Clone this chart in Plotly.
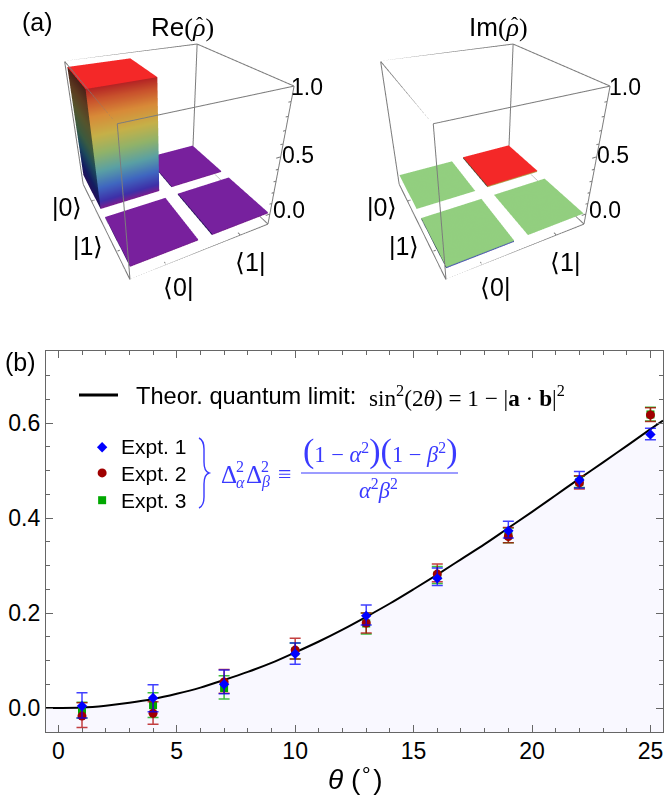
"""
Density matrix bars and uncertainty product against theta, drawn with Plotly.
"""

import plotly.graph_objects as go

WIDTH = 665
HEIGHT = 796

SANS = "Liberation Sans"
SERIF = "Liberation Serif"
BLUE_TEXT = "#3A3AFF"

# Panel (a): rows are |0>, |1>, columns are <0|, <1|
RE_RHO = [[0.96, 0.01], [0.01, 0.012]]
IM_RHO = [[0.0, 0.013], [-0.013, 0.0]]
ROW_LABELS = ["|0⟩", "|1⟩"]
COL_LABELS = ["⟨0|", "⟨1|"]
Z_TICK_LABELS = ["0.0", "0.5", "1.0"]

# Panel (b)
THETA_CURVE = [-0.52, 0, 1, 2, 3, 4, 5, 6, 7, 8, 9, 10, 11, 12, 13, 14, 15, 16, 17, 18,
               19, 20, 21, 22, 23, 24, 25, 25.53]
LIMIT_CURVE = [0.000, 0.000, 0.001, 0.005, 0.011, 0.019, 0.030, 0.043, 0.059, 0.076,
               0.095, 0.117, 0.140, 0.165, 0.192, 0.220, 0.250, 0.281, 0.313, 0.345,
               0.379, 0.413, 0.448, 0.483, 0.517, 0.552, 0.587, 0.605]

THETA = [1, 4, 7, 10, 13, 16, 19, 22, 25]

EXPT1 = [0.004, 0.021, 0.050, 0.114, 0.194, 0.273, 0.373, 0.480, 0.576]
EXPT1_HI = [0.032, 0.049, 0.080, 0.137, 0.217, 0.295, 0.393, 0.498, 0.589]
EXPT1_LO = [-0.021, -0.008, 0.030, 0.092, 0.175, 0.258, 0.358, 0.463, 0.565]

EXPT2 = [-0.017, -0.011, 0.055, 0.122, 0.179, 0.282, 0.361, 0.474, 0.617]
EXPT2_HI = [0.011, 0.013, 0.081, 0.147, 0.200, 0.303, 0.380, 0.489, 0.632]
EXPT2_LO = [-0.041, -0.034, 0.031, 0.103, 0.158, 0.266, 0.348, 0.461, 0.603]

EXPT3 = [-0.004, 0.006, 0.042, 0.119, 0.178, 0.279, 0.364, 0.476, 0.618]
EXPT3_HI = [0.012, 0.032, 0.068, 0.137, 0.200, 0.298, 0.379, 0.488, 0.633]
EXPT3_LO = [-0.021, -0.020, 0.019, 0.103, 0.156, 0.262, 0.348, 0.464, 0.604]

# Legend keys sit in data coordinates, next to the text
KEY_X = 1.85
KEY_Y = [0.549, 0.495, 0.4375]

# Colour ramps for the three visible bar faces (top is brightest, left is in shade)
TOP_RAMP = [[0, "#7B1E9B"], [0.18, "#3A48C8"], [0.35, "#4C96C8"], [0.5, "#93CF7E"],
            [0.65, "#DCC040"], [0.82, "#EE8A30"], [1, "#F42828"]]
FRONT_RAMP = [[0, "#7A1E8E"], [0.07, "#3E30A8"], [0.2, "#3F66C0"], [0.35, "#5AA0A4"],
              [0.5, "#90B26A"], [0.65, "#C6B048"], [0.8, "#D88A38"], [0.92, "#C8502C"],
              [1, "#B42424"]]
LEFT_RAMP = [[0, "#24105A"], [0.15, "#141C60"], [0.35, "#1C4A5C"], [0.5, "#3A5A40"],
             [0.7, "#56542C"], [0.87, "#5C3A20"], [1, "#4A2018"]]

# Box geometry and camera
CELL_LOW = [0.02, 1.1]
CELL_SIZE = 0.88
Z_FLOOR = -0.1
EYE = dict(x=-0.905, y=-1.79, z=1.157)
ASPECT = dict(x=1.0, y=1.012, z=0.985)
BOX_COLOR = "#7C7C7C"


def paper_x(px):
    return px / WIDTH


def paper_y(px):
    return 1 - px / HEIGHT


def label(text, x, y, size=23, font=SANS, color="black", xanchor="center"):
    return dict(
        text=text, x=paper_x(x), y=paper_y(y), xref="paper", yref="paper",
        showarrow=False, xanchor=xanchor, yanchor="middle",
        font=dict(family=font, size=size, color=color),
    )


def add_faces(fig, faces, ramp, vmin, vmax, scene):
    """Each face is four (x, y, z) corners; the ramp runs along z."""
    xs, ys, zs, i, j, k = [], [], [], [], [], []
    for face in faces:
        n = len(xs)
        for corner in face:
            xs.append(corner[0])
            ys.append(corner[1])
            zs.append(corner[2])
        i += [n, n]
        j += [n + 1, n + 2]
        k += [n + 2, n + 3]
    fig.add_trace(go.Mesh3d(
        x=xs, y=ys, z=zs, i=i, j=j, k=k, intensity=zs, colorscale=ramp, cmin=vmin, cmax=vmax,
        showscale=False, hoverinfo="skip", scene=scene,
        lighting=dict(ambient=1, diffuse=0, specular=0, roughness=1, fresnel=0),
    ))


def add_bars(fig, rho, scene):
    vmin = min(min(row) for row in rho + [[0]])
    vmax = max(max(row) for row in rho)
    tops, fronts, lefts = [], [], []
    for r, row in enumerate(rho):
        y0 = CELL_LOW[1 - r]
        y1 = y0 + CELL_SIZE
        for c, value in enumerate(row):
            x0 = CELL_LOW[c]
            x1 = x0 + CELL_SIZE
            top = max(value, 0)
            bot = min(value, 0)
            tops.append([(x0, y0, top), (x1, y0, top), (x1, y1, top), (x0, y1, top)])
            fronts.append([(x0, y0, bot), (x1, y0, bot), (x1, y0, top), (x0, y0, top)])
            lefts.append([(x0, y0, bot), (x0, y1, bot), (x0, y1, top), (x0, y0, top)])
    add_faces(fig, lefts, LEFT_RAMP, vmin, vmax, scene)
    add_faces(fig, fronts, FRONT_RAMP, vmin, vmax, scene)
    add_faces(fig, tops, TOP_RAMP, vmin, vmax, scene)


def add_box(fig, scene):
    xs, ys, zs = [], [], []

    def seg(a, b):
        xs.extend([a[0], b[0], None])
        ys.extend([a[1], b[1], None])
        zs.extend([a[2], b[2], None])

    for z in [Z_FLOOR, 1]:
        seg((0, 0, z), (2, 0, z))
        seg((2, 0, z), (2, 2, z))
        seg((2, 2, z), (0, 2, z))
        seg((0, 2, z), (0, 0, z))
    for x, y in [(0, 0), (2, 0), (2, 2), (0, 2)]:
        seg((x, y, Z_FLOOR), (x, y, 1))
    # small ticks: z along the right edge, cells along the two floor edges
    for n in range(11):
        size = 0.07 if n % 5 == 0 else 0.04
        seg((2, 0, n / 10), (2 - size, 0, n / 10))
    for low in CELL_LOW:
        mid = low + CELL_SIZE / 2
        seg((mid, 0, Z_FLOOR), (mid, 0.05, Z_FLOOR))
        seg((0, mid, Z_FLOOR), (0.05, mid, Z_FLOOR))
    fig.add_trace(go.Scatter3d(
        x=xs, y=ys, z=zs, mode="lines", line=dict(color=BOX_COLOR, width=2),
        hoverinfo="skip", showlegend=False, scene=scene,
    ))


def scene_layout(left):
    hidden = dict(
        visible=False, showgrid=False, zeroline=False, showticklabels=False,
        showbackground=False, showspikes=False, title="",
    )
    size = 289.4
    return dict(
        domain=dict(x=[paper_x(left), paper_x(left + size)], y=[paper_y(size), 1]),
        xaxis=dict(range=[0, 2], **hidden),
        yaxis=dict(range=[0, 2], **hidden),
        zaxis=dict(range=[Z_FLOOR, 1], **hidden),
        aspectmode="manual",
        aspectratio=ASPECT,
        camera=dict(eye=EYE, center=dict(x=0, y=0, z=0), up=dict(x=0, y=0, z=1)),
        bgcolor="rgba(0,0,0,0)",
    )


def add_expt(fig, y, hi, lo, color, bar_color, symbol, size, key_y):
    fig.add_trace(go.Scatter(
        x=THETA, y=y, mode="markers",
        marker=dict(color=color, symbol=symbol, size=size),
        error_y=dict(
            type="data", symmetric=False,
            array=[round(h - v, 3) for h, v in zip(hi, y)],
            arrayminus=[round(v - l, 3) for v, l in zip(y, lo)],
            color=bar_color, thickness=1.5, width=5.5,
        ),
        showlegend=False, hoverinfo="skip",
    ))
    fig.add_trace(go.Scatter(
        x=[KEY_X], y=[key_y], mode="markers",
        marker=dict(color=color, symbol=symbol, size=size),
        showlegend=False, hoverinfo="skip",
    ))


fig = go.Figure()

add_bars(fig, RE_RHO, "scene")
add_box(fig, "scene")
add_bars(fig, IM_RHO, "scene2")
add_box(fig, "scene2")

# shaded region under the limit, down to the bottom axis
fig.add_trace(go.Scatter(
    x=[THETA_CURVE[0], THETA_CURVE[-1]], y=[-0.0505, -0.0505], mode="lines",
    line=dict(width=0), showlegend=False, hoverinfo="skip",
))
fig.add_trace(go.Scatter(
    x=THETA_CURVE, y=LIMIT_CURVE, mode="lines", fill="tonexty", fillcolor="#F9F8FF",
    line=dict(color="black", width=2, shape="spline"),
    showlegend=False, hoverinfo="skip",
))

add_expt(fig, EXPT3, EXPT3_HI, EXPT3_LO, "#00A800", "rgba(0,168,0,0.75)", "square", 8, KEY_Y[2])
add_expt(fig, EXPT2, EXPT2_HI, EXPT2_LO, "#A00000", "rgba(176,0,0,0.75)", "circle", 9, KEY_Y[1])
add_expt(fig, EXPT1, EXPT1_HI, EXPT1_LO, "#0000FF", "rgba(0,0,255,0.75)", "diamond", 8, KEY_Y[0])

annotations = [
    label("(a)", 37, 22, size=25),
    label("(b)", 20, 362, size=25),
    label("Re<span style='font-family:Liberation Serif'>(<i>ρ</i>)</span>", 182, 27, size=26),
    label("ˆ", 199, 25, size=21, font=SERIF),
    label("Im<span style='font-family:Liberation Serif'>(<i>ρ</i>)</span>", 498, 27, size=26),
    label("ˆ", 514, 25, size=21, font=SERIF),
]
for z_x, row_x, col_x in [([289, 298, 307], [67, 88], [178, 250]),
                          ([605, 613, 625], [382, 404], [495, 565])]:
    for text, x, y in zip(Z_TICK_LABELS, z_x, [210, 155, 87]):
        annotations.append(label(text, x, y))
    for text, x, y in zip(ROW_LABELS, row_x, [207, 246]):
        annotations.append(label(text, x, y, size=25))
    for text, x, y in zip(COL_LABELS, col_x, [287, 262]):
        annotations.append(label(text, x, y, size=25))

annotations += [
    label("Theor. quantum limit:", 134, 396, size=23.6, xanchor="left"),
    label("sin<sup>2</sup>(2<i>θ</i>) = 1 − |<b>a</b> · <b>b</b>|<sup>2</sup>", 367, 396,
          size=23.2, font=SERIF, xanchor="left"),
    label("Expt. 1", 119, 446, size=21, xanchor="left"),
    label("Expt. 2", 119, 473, size=21, xanchor="left"),
    label("Expt. 3", 119, 500, size=21, xanchor="left"),
    label("Δ", 229, 475, size=25, font=SERIF, color=BLUE_TEXT),
    label("2", 240, 466, size=16, font=SERIF, color=BLUE_TEXT),
    label("<i>α</i>", 240, 482, size=16, font=SERIF, color=BLUE_TEXT),
    label("Δ", 254, 475, size=25, font=SERIF, color=BLUE_TEXT),
    label("2", 265, 466, size=16, font=SERIF, color=BLUE_TEXT),
    label("<i>β</i>", 265, 482, size=16, font=SERIF, color=BLUE_TEXT),
    label("≡", 285, 474, size=24, font=SERIF, color=BLUE_TEXT),
    label("<span style='font-size:34px'>(</span>1 − <i>α</i><sup>2</sup>"
          "<span style='font-size:34px'>)(</span>1 − <i>β</i><sup>2</sup>"
          "<span style='font-size:34px'>)</span>",
          380, 451, size=22.5, font=SERIF, color=BLUE_TEXT),
    label("<i>α</i><sup>2</sup><i>β</i><sup>2</sup>", 378, 489, size=22.5, font=SERIF,
          color=BLUE_TEXT),
    label("<i>θ</i> (<sup>∘</sup>)", 355, 777, size=28),
]


def brace_path():
    points = [
        ("M", [(199, 438)]),
        ("C", [(203, 440), (204, 444), (204, 449)]),
        ("L", [(204, 462)]),
        ("C", [(204, 468), (206, 472), (209, 473)]),
        ("C", [(206, 474), (204, 478), (204, 484)]),
        ("L", [(204, 497)]),
        ("C", [(204, 502), (203, 506), (199, 508)]),
    ]
    parts = []
    for command, coords in points:
        parts.append(command + " ".join(f"{paper_x(x):.5f},{paper_y(y):.5f}" for x, y in coords))
    return " ".join(parts)


shapes = [
    dict(type="line", xref="paper", yref="paper", x0=paper_x(79), x1=paper_x(118),
         y0=paper_y(395), y1=paper_y(395), line=dict(color="black", width=3)),
    dict(type="line", xref="paper", yref="paper", x0=paper_x(301), x1=paper_x(458),
         y0=paper_y(473), y1=paper_y(473), line=dict(color=BLUE_TEXT, width=1.2)),
    dict(type="path", xref="paper", yref="paper", path=brace_path(),
         line=dict(color=BLUE_TEXT, width=1.4)),
]

axis_style = dict(
    showgrid=False, zeroline=False, showline=True, linecolor="#666666", linewidth=1.2,
    mirror="allticks", ticks="inside", tickcolor="#666666", tickwidth=1, ticklen=7,
    tickfont=dict(family=SANS, size=23, color="black"),
)

fig.update_layout(
    width=WIDTH,
    height=HEIGHT,
    margin=dict(l=0, r=0, t=0, b=0),
    paper_bgcolor="white",
    plot_bgcolor="white",
    showlegend=False,
    scene=scene_layout(24.3),
    scene2=scene_layout(340.3),
    xaxis=dict(
        domain=[paper_x(46), paper_x(663)], range=[-0.52, 25.53], tick0=0, dtick=5,
        ticklabelstandoff=-2,
        minor=dict(dtick=1, tick0=0, ticks="inside", ticklen=4, tickcolor="#666666"),
        **axis_style,
    ),
    yaxis=dict(
        domain=[paper_y(732), paper_y(351)], range=[-0.0505, 0.7516], tick0=0, dtick=0.2,
        tickformat=".1f",
        minor=dict(dtick=0.05, tick0=0, ticks="inside", ticklen=4, tickcolor="#666666"),
        **axis_style,
    ),
    annotations=annotations,
    shapes=shapes,
)

fig.write_html(
    "out.html",
    config={"displayModeBar": False},
    post_script="document.body.style.margin='0';",
)
